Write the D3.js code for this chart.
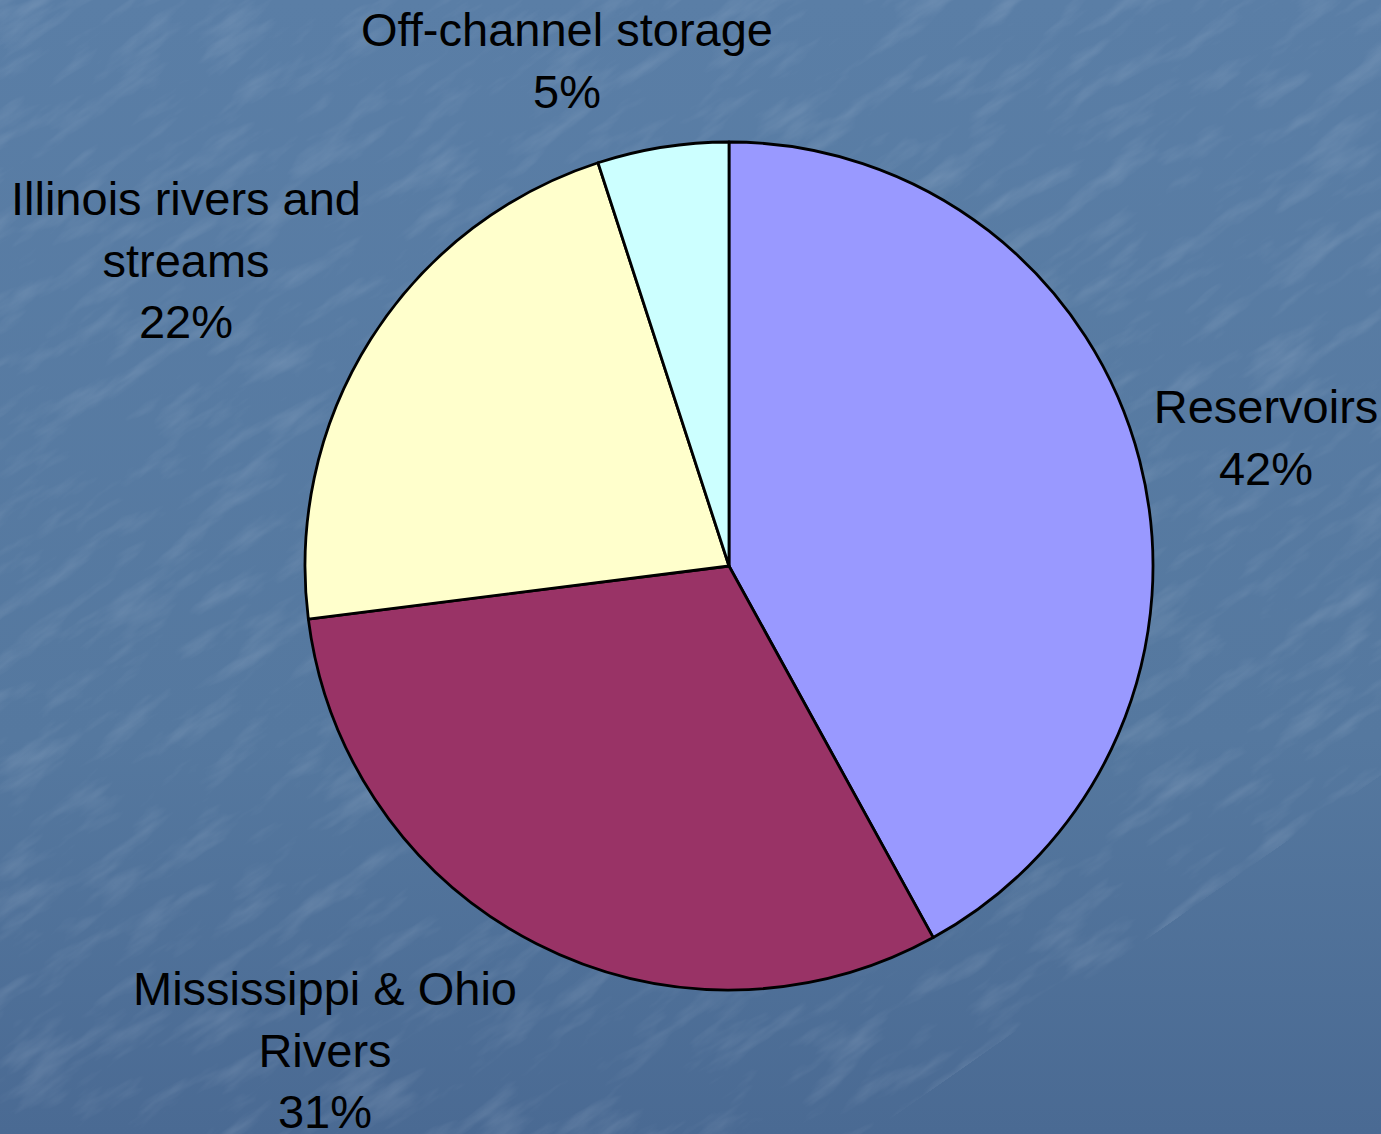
<!DOCTYPE html>
<html>
<head>
<meta charset="utf-8">
<script src="https://cdn.jsdelivr.net/npm/d3@7"></script>
<style>
  html, body { margin: 0; padding: 0; overflow: hidden; }
  svg { display: block; }
</style>
</head>
<body>
<script>
// Water storage shares
const categories = ["Reservoirs", "Mississippi & Ohio Rivers", "Illinois rivers and streams", "Off-channel storage"];
const values = [42, 31, 22, 5];
const colors = ["#9999ff", "#993366", "#ffffcc", "#ccffff"];
// label lines (wrapped as in the slide) and anchor points
const labelLines = [
  ["Reservoirs", "42%"],
  ["Mississippi & Ohio", "Rivers", "31%"],
  ["Illinois rivers and", "streams", "22%"],
  ["Off-channel storage", "5%"]
];
const labelPos = [[1266, 423], [325, 1005], [186, 215], [567, 46]];

const W = 1381, H = 1134;
const cx = 729, cy = 566, R = 424;

const svg = d3.select("body").append("svg").attr("width", W).attr("height", H);
const defs = svg.append("defs");

const grad = defs.append("linearGradient").attr("id", "bg").attr("x1", 0).attr("y1", 0).attr("x2", 0).attr("y2", 1);
grad.append("stop").attr("offset", "0%").attr("stop-color", "#5a7ea6");
grad.append("stop").attr("offset", "65%").attr("stop-color", "#55789f");
grad.append("stop").attr("offset", "100%").attr("stop-color", "#4a6a93");

// faint scratchy texture over the backdrop
const f = defs.append("filter").attr("id", "tex").attr("x", 0).attr("y", 0).attr("width", "100%").attr("height", "100%");
f.append("feTurbulence").attr("type", "fractalNoise").attr("baseFrequency", "0.012 0.05").attr("numOctaves", 4).attr("seed", 3).attr("result", "n");
f.append("feColorMatrix").attr("in", "n").attr("type", "matrix")
  .attr("values", "0 0 0 0 0.8  0 0 0 0 0.87  0 0 0 0 0.97  0 0 0 2.0 -1.0");

svg.append("rect").attr("width", W).attr("height", H).attr("fill", "url(#bg)");
svg.append("g").attr("transform", `rotate(-35 ${W/2} ${H/2})`)
  .append("rect").attr("x", -500).attr("y", -500).attr("width", W + 1000).attr("height", H + 500)
  .attr("filter", "url(#tex)").attr("opacity", 0.16);

const pie = d3.pie().sort(null).value(d => d);
const arc = d3.arc().innerRadius(0).outerRadius(R);

const g = svg.append("g").attr("transform", `translate(${cx},${cy})`);
g.selectAll("path").data(pie(values)).join("path")
  .attr("d", arc)
  .attr("fill", (d, i) => colors[i])
  .attr("stroke", "#000")
  .attr("stroke-width", 2.8)
  .attr("stroke-linejoin", "round");

const lineH = 61.5;
const labels = svg.append("g")
  .attr("font-family", "'Liberation Sans', Arial, sans-serif")
  .attr("font-size", 47)
  .attr("fill", "#000")
  .attr("text-anchor", "middle");
labelLines.forEach((lines, i) => {
  const t = labels.append("text").attr("x", labelPos[i][0]).attr("y", labelPos[i][1]);
  lines.forEach((s, j) => {
    t.append("tspan").attr("x", labelPos[i][0]).attr("y", labelPos[i][1] + j * lineH).text(s);
  });
});
</script>
</body>
</html>
